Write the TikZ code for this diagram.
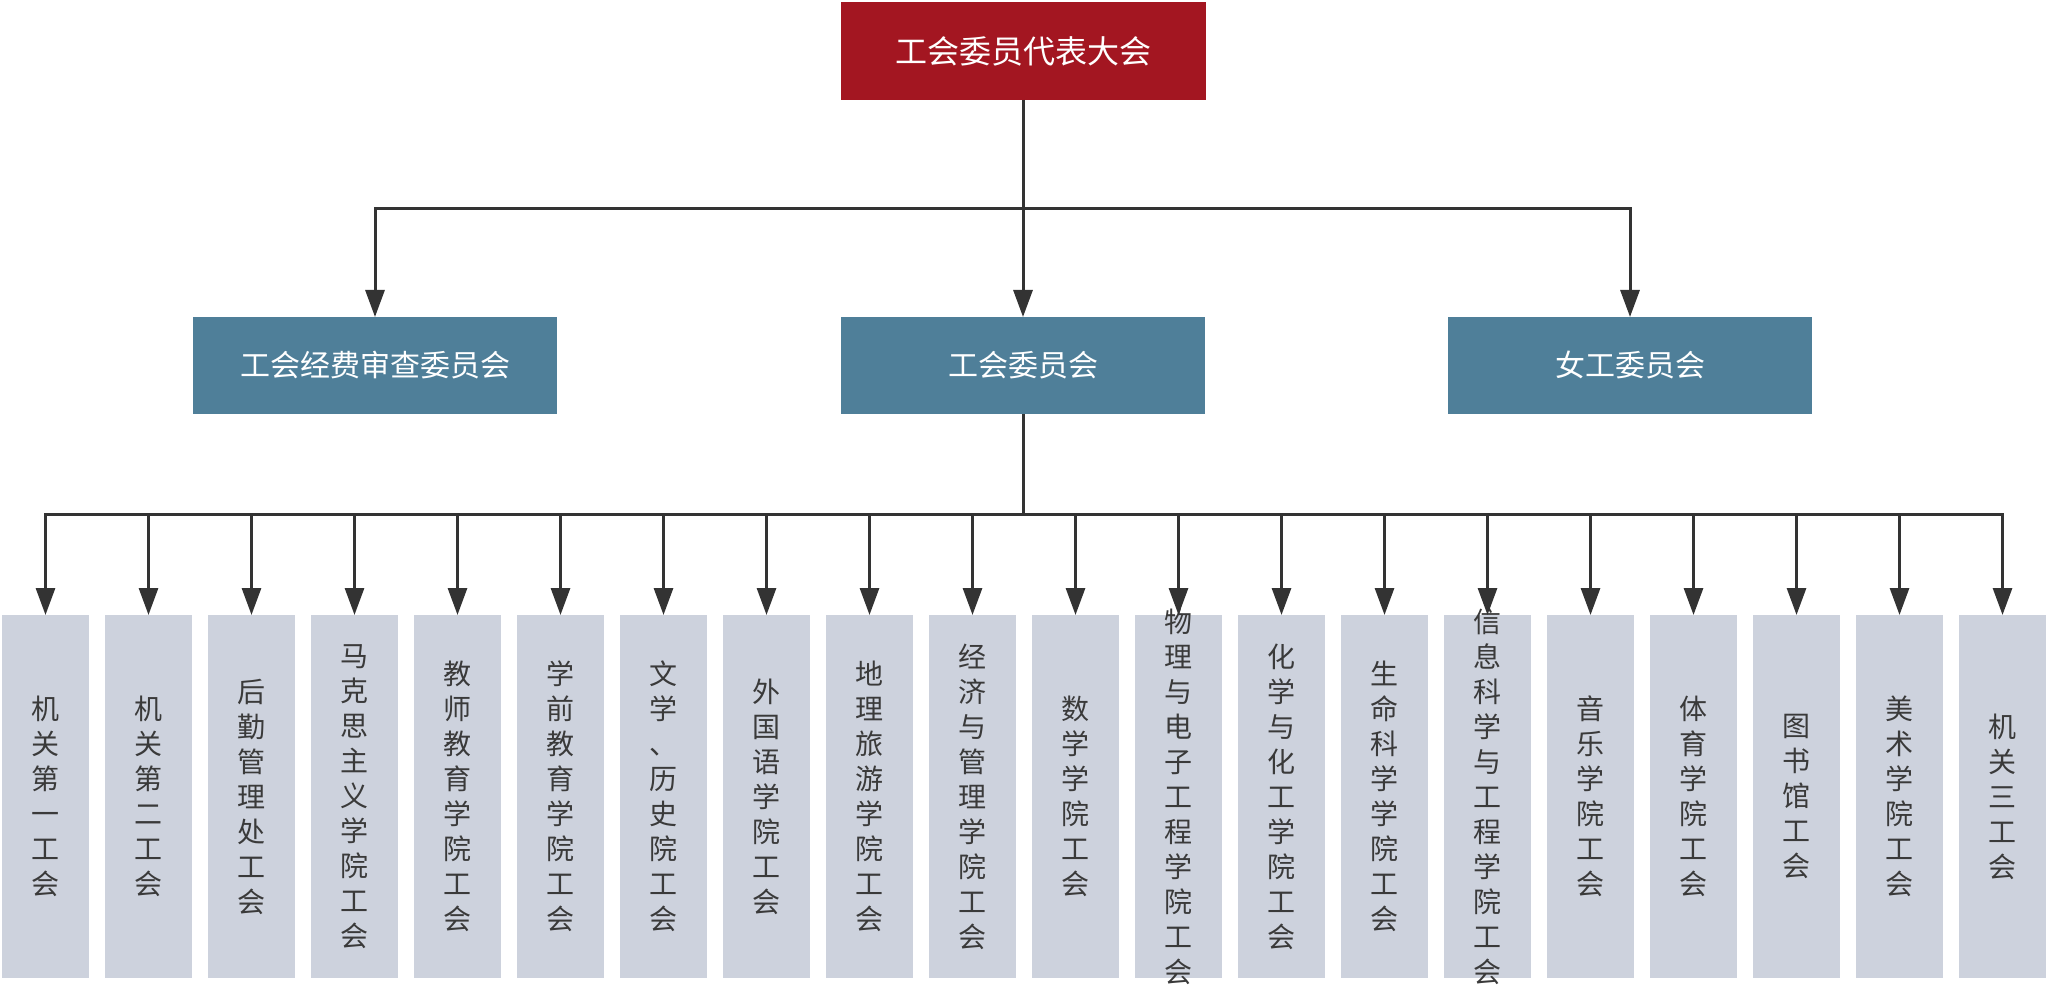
\documentclass[tikz,border=0pt]{standalone}
\usepackage{fontspec}
\setmainfont{Noto Sans CJK SC}
\usetikzlibrary{positioning,arrows.meta,calc}
\definecolor{dkred}{HTML}{A31621}
\definecolor{steel}{HTML}{4F7F99}
\definecolor{palegrey}{HTML}{CDD2DD}
\definecolor{linecol}{HTML}{333333}
\definecolor{txtcol}{HTML}{3A3A3A}

% stack the characters of a label one under the other
\makeatletter
\def\vtxt@end{}
\def\vtxt#1{\vtxt@a#1\vtxt@end}
\def\vtxt@a#1{#1\vtxt@b}
\def\vtxt@b#1{\ifx#1\vtxt@end\else\\#1\expandafter\vtxt@b\fi}
\makeatother

\begin{document}
\begin{tikzpicture}[
  topbox/.style={fill=dkred, text=white, minimum width=182.5pt, minimum height=49pt,
                 inner sep=0pt, outer sep=0pt, font=\fontsize{16pt}{19pt}\selectfont},
  midbox/.style={fill=steel, text=white, minimum width=182pt, minimum height=48.5pt,
                 inner sep=0pt, outer sep=0pt, font=\fontsize{15pt}{18pt}\selectfont},
  unit/.style={fill=palegrey, minimum width=43.5pt, minimum height=181.5pt,
               inner sep=0pt, outer sep=0pt},
  unittxt/.style={text=txtcol, align=center, inner sep=0pt,
                  font=\fontsize{14pt}{17.5pt}\selectfont},
  arr/.style={-{Triangle[length=13.5pt, width=9.5pt]}, line width=1.5pt, draw=linecol},
  bar/.style={line width=1.5pt, draw=linecol},
]
\useasboundingbox (0,0) rectangle (1024pt,-494.5pt);

% ─── congress (top) ────────────────────────────────────────────────────────
\node[topbox] (top) at (511.5pt,-25.5pt) {工会委员代表大会};

% ─── committees (middle row) ───────────────────────────────────────────────
\node[midbox, below=108.5pt of top] (mc) {工会委员会};
\node[midbox, left=142pt of mc] (ml) {工会经费审查委员会};
\node[midbox, right=121.5pt of mc] (mr) {女工委员会};

\coordinate (tbar) at ($(top.south)!0.5!(mc.north)$);
\draw[arr] (top) -- (mc);
\draw[arr] (top.south) -- (tbar) -| (ml.north);
\draw[arr] (top.south) -- (tbar) -| (mr.north);

% ─── branch unions (bottom row) ────────────────────────────────────────────
\foreach \lbl [count=\i] in {机关第一工会,机关第二工会,后勤管理处工会,马克思主义学院工会,
    教师教育学院工会,学前教育学院工会,文学、历史院工会,外国语学院工会,地理旅游学院工会,
    经济与管理学院工会,数学学院工会,物理与电子工程学院工会,化学与化工学院工会,
    生命科学学院工会,信息科学与工程学院工会,音乐学院工会,体育学院工会,图书馆工会,
    美术学院工会,机关三工会}{
  \ifnum\i=1
    \node[unit, anchor=north west] (u1) at (1pt,-307.5pt) {};
  \else
    \pgfmathtruncatemacro\j{\i-1}
    \node[unit, right=8pt of u\j] (u\i) {};
  \fi
  \node[unittxt] (t\i) at (u\i.center) {\expandafter\vtxt\expandafter{\lbl}};
}

\coordinate (bbar) at ($(mc.south)!0.5!(u1.north)$);
\draw[bar] (mc.south) -- (mc.south |- bbar);
\foreach \i in {1,...,20}
  \draw[arr] (mc.south |- bbar) -| (u\i.north);

\end{tikzpicture}
\end{document}
